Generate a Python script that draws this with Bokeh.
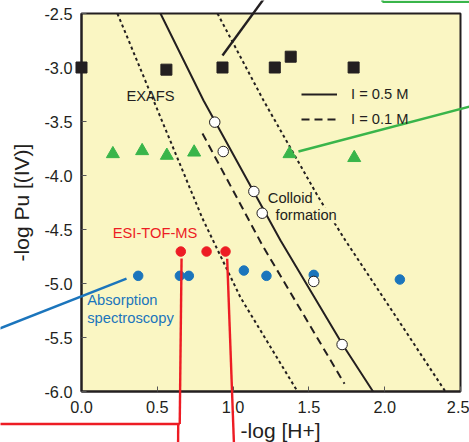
from bokeh.plotting import figure
from bokeh.models import (Range1d, FixedTicker, PrintfTickFormatter, Label, Arrow,
                          Legend, LegendItem)
from bokeh.embed import file_html
from bokeh.resources import INLINE

FONT = "Liberation Sans"
INK = "#231f20"
YELLOW = "#faf6c3"
BLUE = "#1b75bc"
RED = "#ed1c24"
GREEN = "#39b54a"

# ---------------- data ----------------
exafs_x = [0.0, 0.56, 0.93, 1.275, 1.38, 1.795]
exafs_y = [-3.0, -3.02, -3.0, -3.0, -2.9, -3.0]

green_x = [0.207, 0.40, 0.563, 0.743, 1.372, 1.799]
green_y = [-3.80, -3.772, -3.815, -3.785, -3.80, -3.836]

esi_x = [0.655, 0.825, 0.950]
esi_y = [-4.704, -4.704, -4.704]

abs_x = [0.374, 0.649, 0.708, 1.071, 1.220, 1.532, 2.100]
abs_y = [-4.929, -4.929, -4.929, -4.880, -4.929, -4.920, -4.963]

colloid_x = [0.879, 0.935, 1.137, 1.192, 1.532, 1.719]
colloid_y = [-3.506, -3.778, -4.148, -4.349, -4.981, -5.565]

solid_x = [0.521, 0.805, 1.313, 1.722, 1.923]
solid_y = [-2.5, -3.306, -4.602, -5.565, -6.0]

dashed_x = [0.798, 1.194, 1.735]
dashed_y = [-3.611, -4.648, -5.929]

dot1_x = [0.237, 0.653, 0.798, 1.049, 1.425]
dot1_y = [-2.5, -3.907, -4.398, -5.130, -6.0]

dot2_x = [0.897, 1.201, 1.564, 1.741, 2.104, 2.40]
dot2_y = [-2.5, -3.306, -4.204, -4.602, -5.370, -6.0]

x_ticks = [0.0, 0.5, 1.0, 1.5, 2.0, 2.5]
y_ticks = [-6.0, -5.5, -5.0, -4.5, -4.0, -3.5, -3.0, -2.5]

# ---------------- figure ----------------
# The frame spans the whole page so that the call-out lines can leave the plot box;
# the plot box itself is drawn with the axes pinned to its edges.
W, H = 469, 442
p = figure(width=W, height=H, output_backend="svg", toolbar_location=None,
           x_range=Range1d(-0.5343, 2.5594), y_range=Range1d(-6.4722, -2.3796),
           min_border=0)
p.background_fill_color = "white"
p.border_fill_color = "white"
p.outline_line_color = None
p.grid.visible = False

# plot box
p.quad(left=[x_ticks[0]], right=[x_ticks[-1]], bottom=[y_ticks[0]], top=[y_ticks[-1]],
       fill_color=YELLOW, line_color=INK, line_width=2, level="image")

p.xaxis.fixed_location = y_ticks[0]
p.yaxis.fixed_location = x_ticks[0]
p.xaxis.bounds = (x_ticks[0], x_ticks[-1])
p.yaxis.bounds = (y_ticks[0], y_ticks[-1])

for ax, ticks in ((p.xaxis[0], x_ticks), (p.yaxis[0], y_ticks)):
    ax.ticker = FixedTicker(ticks=ticks)
    ax.formatter = PrintfTickFormatter(format="%.1f")
    ax.major_tick_in = 5
    ax.major_tick_out = 0
    ax.minor_tick_line_color = None
    ax.axis_line_width = 2
    ax.axis_line_color = INK
    ax.major_tick_line_color = "#555555"
    ax.major_label_text_font = FONT
    ax.major_label_text_font_size = "16.3px"
    ax.major_label_text_color = INK
    ax.major_label_standoff = 9
    ax.level = "underlay"

p.yaxis.axis_label = "-log Pu [(IV)]"
p.yaxis.axis_label_text_font = FONT
p.yaxis.axis_label_text_font_size = "21px"
p.yaxis.axis_label_text_font_style = "normal"
p.yaxis.axis_label_text_color = INK
p.yaxis.axis_label_standoff = 8

# ---------------- curves ----------------
r_solid = p.line(solid_x, solid_y, line_color=INK, line_width=2)
r_dash = p.line(dashed_x, dashed_y, line_color=INK, line_width=2, line_dash="8 5")
p.line(dot1_x, dot1_y, line_color=INK, line_width=2, line_dash="3 3")
p.line(dot2_x, dot2_y, line_color=INK, line_width=2, line_dash="3 3")

# ---------------- markers ----------------
p.scatter(exafs_x, exafs_y, marker="square", size=11, fill_color=INK, line_color=INK)
p.scatter(green_x, green_y, marker="triangle", size=13, fill_color=GREEN, line_color=GREEN)
p.scatter(esi_x, esi_y, marker="circle", size=9.5, fill_color=RED, line_color=RED)
p.scatter(abs_x, abs_y, marker="circle", size=9.5, fill_color=BLUE, line_color=BLUE)
p.scatter(colloid_x, colloid_y, marker="circle", size=10.5, fill_color="white",
          line_color=INK, line_width=1)

# ---------------- legend ----------------
legend = Legend(items=[LegendItem(label="I = 0.5 M", renderers=[r_solid]),
                       LegendItem(label="I = 0.1 M", renderers=[r_dash])],
                location=(301, 313), glyph_width=36, glyph_height=20,
                label_standoff=14, spacing=5, padding=0, margin=0,
                border_line_alpha=0, background_fill_alpha=0,
                label_text_font=FONT, label_text_font_size="14.7px",
                label_text_color=INK)
p.add_layout(legend)

# ---------------- text labels ----------------
def lab(x, y, t, color=INK, align="left", bg=None, size="14.7px"):
    kw = {}
    if bg is not None:
        kw = dict(background_fill_color=bg, background_fill_alpha=1)
    l = Label(x=x, y=y, text=t, text_font=FONT, text_font_size=size,
              text_color=color, text_align=align, text_baseline="middle", **kw)
    p.add_layout(l)

lab(0.455, -3.266, "EXAFS", align="center")
lab(0.485, -4.532, "ESI-TOF-MS", color=RED, align="center")
lab(0.038, -5.155, "Absorption", color=BLUE)
lab(0.038, -5.318, "spectroscopy", color=BLUE)
lab(1.229, -4.208, "Colloid")
lab(1.280, -4.368, "formation", bg=YELLOW)
lab(1.313, -6.361, "-log [H+]", align="center", size="21px")

# ---------------- call-out lines ----------------
def callout(x0, y0, x1, y1, color):
    p.add_layout(Arrow(end=None, x_start=x0, y_start=y0, x_end=x1, y_end=y1,
                       line_color=color, line_width=2.4))

callout(0.930, -2.889, 1.205, -2.36, INK)
callout(1.431, -3.778, 2.60, -3.347, GREEN)
callout(1.985, -2.392, 2.60, -2.392, GREEN)
callout(1.985, -2.392, 1.985, -2.36, GREEN)
callout(0.297, -4.954, -0.60, -5.45, BLUE)
callout(0.660, -4.769, 0.648, -6.301, RED)
callout(0.648, -6.301, -0.60, -6.301, RED)
callout(0.638, -6.301, 0.637, -6.50, RED)
callout(0.961, -4.771, 1.006, -6.50, RED)

open("out.html", "w").write(file_html(p, INLINE))
